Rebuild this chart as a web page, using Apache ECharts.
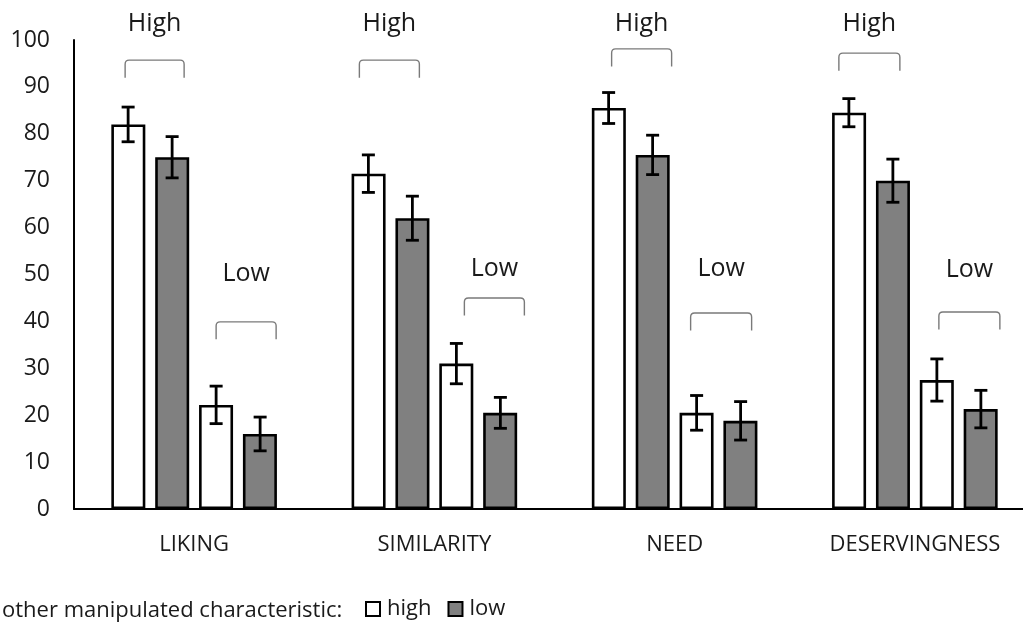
<!DOCTYPE html>
<html>
<head>
<meta charset="utf-8">
<title>other manipulated characteristic</title>
<script src="https://cdn.jsdelivr.net/npm/echarts@6/dist/echarts.min.js"></script>
<style>
html, body { margin: 0; padding: 0; background: #fff; }
#chart { width: 1023px; height: 623px; }
</style>
</head>
<body>
<div id="chart"></div>
<script>
// data
var categories = ['LIKING', 'SIMILARITY', 'NEED', 'DESERVINGNESS'];
var seriesNames = ['high', 'low'];
var groupNames = ['High', 'Low'];

var highHigh    = [82.0, 71.5, 85.5, 84.5];
var highHighErr = [3.7, 4.0, 3.3, 3.0];
var highLow     = [75.0, 62.0, 75.5, 70.0];
var highLowErr  = [4.4, 4.7, 4.2, 4.6];
var lowHigh     = [22.2, 31.0, 20.5, 27.5];
var lowHighErr  = [4.0, 4.3, 3.7, 4.5];
var lowLow      = [16.0, 20.5, 18.8, 21.3];
var lowLowErr   = [3.6, 3.3, 4.1, 4.0];

// bracket annotations (value of bracket top, value of label centre)
var highBracketTop = [95.7, 95.7, 98.1, 97.2];
var lowBracketTop  = [39.9, 45.0, 41.8, 42.0];
var highLabelAt    = [103.4, 103.4, 103.4, 103.4];
var lowLabelAt     = [50.2, 51.1, 51.2, 51.0];

// pixel offsets of bracket ends from category centre
var highBracketX = [[-69, -10], [-75, -15], [-63, -3], [-76, -15]];
var lowBracketX  = [[22, 82], [30, 90], [16, 77], [24, 85]];

var BAR_W = 34;
var STEP = 44;           // centre to centre distance of neighbouring bars
var GRAY = '#808080';
var TEXT = '#1a1a1a';

var errData = [];
[[highHigh, highHighErr], [highLow, highLowErr], [lowHigh, lowHighErr], [lowLow, lowLowErr]].forEach(function (s, g) {
  s[0].forEach(function (v, i) { errData.push([i, v, s[1][i], g]); });
});

var bracketData = [];
categories.forEach(function (c, i) {
  bracketData.push([i, highBracketTop[i], highLabelAt[i], highBracketX[i][0], highBracketX[i][1], 0]);
  bracketData.push([i, lowBracketTop[i], lowLabelAt[i], lowBracketX[i][0], lowBracketX[i][1], 1]);
});

function barSeries(name, data, color) {
  return {
    name: name,
    type: 'bar',
    data: data,
    barWidth: BAR_W,
    barGap: '29%',
    itemStyle: { color: color, borderColor: '#000', borderWidth: 2.6 },
    emphasis: { disabled: true },
    z: 2
  };
}

var chart = echarts.init(document.getElementById('chart'));

var option = {
  animation: false,
  title: {
    text: 'other manipulated characteristic:',
    left: 2,
    top: 600,
    padding: 0,
    textStyle: { fontFamily: 'Open Sans', fontSize: 22, fontWeight: 'normal', color: TEXT }
  },
  legend: {
    data: seriesNames,
    left: 365,
    top: 598,
    padding: 0,
    icon: 'rect',
    itemWidth: 14,
    itemHeight: 14,
    itemGap: 16,
    selectedMode: false,
    textStyle: { fontFamily: 'Open Sans', fontSize: 22, color: TEXT, padding: [0, 0, 3, 2] }
  },
  grid: { left: 74, right: -12, top: 40, bottom: 114, outerBoundsMode: 'none', containLabel: false },
  xAxis: {
    type: 'category',
    data: categories,
    axisLine: { lineStyle: { color: '#000', width: 2 } },
    axisTick: { show: false },
    axisLabel: { fontFamily: 'Open Sans', fontSize: 22, color: TEXT, margin: 25 }
  },
  yAxis: {
    type: 'value',
    min: 0,
    max: 100,
    interval: 10,
    axisLine: { show: true, lineStyle: { color: '#000', width: 2 } },
    axisTick: { show: false },
    splitLine: { show: false },
    axisLabel: { fontFamily: 'Open Sans', fontSize: 23, color: TEXT, margin: 24 }
  },
  series: [
    barSeries('high', highHigh, '#fff'),
    barSeries('low', highLow, GRAY),
    barSeries('high', lowHigh, '#fff'),
    barSeries('low', lowLow, GRAY),
    {
      type: 'custom',
      data: errData,
      z: 5,
      silent: true,
      renderItem: function (params, api) {
        var cat = api.value(0), m = api.value(1), e = api.value(2), g = api.value(3);
        var top = api.coord([cat, m + e]);
        var bot = api.coord([cat, m - e]);
        var x = top[0] + (g - 1.5) * STEP;
        var cap = 6.5;
        var st = { stroke: '#000', lineWidth: 2.8 };
        return {
          type: 'group',
          children: [
            { type: 'line', shape: { x1: x, y1: top[1], x2: x, y2: bot[1] }, style: st },
            { type: 'line', shape: { x1: x - cap, y1: top[1], x2: x + cap, y2: top[1] }, style: st },
            { type: 'line', shape: { x1: x - cap, y1: bot[1], x2: x + cap, y2: bot[1] }, style: st }
          ]
        };
      }
    },
    {
      type: 'custom',
      data: bracketData,
      z: 5,
      silent: true,
      clip: false,
      renderItem: function (params, api) {
        var cat = api.value(0);
        var t = api.coord([cat, api.value(1)]);
        var lab = api.coord([cat, api.value(2)]);
        var x1 = t[0] + api.value(3), x2 = t[0] + api.value(4);
        var y = t[1], h = 17.5, r = 4;
        var path = 'M' + x1 + ',' + (y + h) + ' L' + x1 + ',' + (y + r) +
          ' Q' + x1 + ',' + y + ' ' + (x1 + r) + ',' + y +
          ' L' + (x2 - r) + ',' + y +
          ' Q' + x2 + ',' + y + ' ' + x2 + ',' + (y + r) +
          ' L' + x2 + ',' + (y + h);
        return {
          type: 'group',
          children: [
            { type: 'path', shape: { pathData: path }, style: { stroke: '#7a7a7a', lineWidth: 1.4, fill: null } },
            {
              type: 'text',
              x: (x1 + x2) / 2,
              y: lab[1],
              style: {
                text: groupNames[api.value(5)],
                fontFamily: 'Open Sans',
                fontSize: 25,
                fill: TEXT,
                align: 'center',
                verticalAlign: 'middle'
              }
            }
          ]
        };
      }
    }
  ]
};

chart.setOption(option);
</script>
</body>
</html>
